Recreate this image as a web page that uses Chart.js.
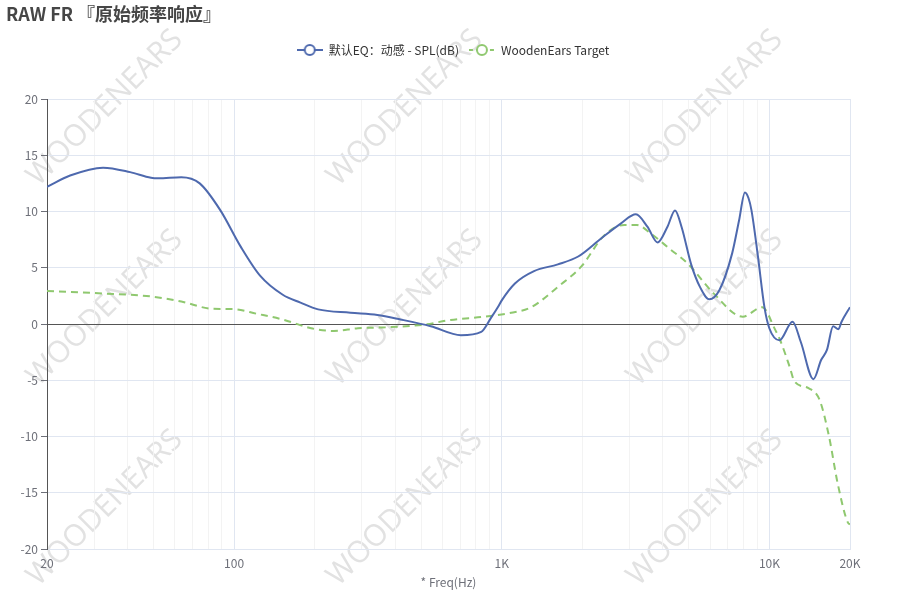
<!DOCTYPE html>
<html>
<head>
<meta charset="utf-8">
<title>RAW FR</title>
<script src="https://cdn.jsdelivr.net/npm/chart.js@4.4.1/dist/chart.umd.min.js"></script>
<style>
html, body { margin: 0; padding: 0; background: #fff; }
</style>
</head>
<body>
<canvas id="frCanvas" width="900" height="600"></canvas>
<script>
// measured curve: 默认EQ 动感
var eqFreq = [20, 24.4, 32.4, 40.9, 48.9, 52.1, 63.5, 74.4, 88.9, 105.7, 125, 152, 177, 206, 272, 343, 419, 543, 704, 838, 909, 973, 1000, 1120, 1320, 1620, 1930, 2350, 2790, 3170, 3500, 3820, 4160, 4440, 4700, 5100, 5500, 5960, 6500, 7260, 7700, 8100, 8350, 8570, 9060, 9580, 10000, 10900, 12200, 13100, 14600, 15600, 16400, 17300, 18100, 18600, 20000];
var eqSpl = [12.2, 13.2, 13.9, 13.5, 13.0, 12.95, 13.05, 12.5, 10.1, 6.9, 4.3, 2.6, 1.9, 1.3, 1.0, 0.8, 0.4, -0.2, -1.0, -0.7, 0.5, 1.6, 2.1, 3.6, 4.7, 5.3, 6.0, 7.6, 8.95, 9.75, 8.65, 7.25, 8.65, 10.1, 8.6, 5.3, 3.3, 2.2, 3.0, 6.3, 9.2, 11.7, 11.2, 10.1, 6.0, 1.5, -0.4, -1.45, 0.2, -1.6, -4.9, -3.2, -2.3, -0.2, -0.47, 0.2, 1.5];

// target curve
var targetFreq = [20, 33.4, 48.9, 63.5, 83.3, 99, 122, 152, 194, 236, 290, 367, 515, 644, 860, 1085, 1290, 1620, 1980, 2420, 2870, 3200, 3600, 4280, 4940, 6200, 7950, 9400, 10500, 10950, 11900, 12400, 14000, 15400, 16700, 18000, 19700, 20000];
var targetSpl = [2.93, 2.7, 2.45, 2.0, 1.35, 1.33, 0.9, 0.4, -0.38, -0.62, -0.38, -0.3, -0.05, 0.36, 0.65, 1.0, 1.5, 3.3, 5.1, 7.9, 8.8, 8.8, 8.05, 6.6, 5.4, 2.7, 0.65, 1.5, -0.5, -1.4, -3.8, -5.1, -5.7, -6.75, -10.0, -14.2, -17.7, -17.8];

var seriesNames = ['默认EQ：动感 - SPL(dB)', 'WoodenEars Target'];
var seriesColors = ['#4e69ae', '#8fc86f'];

// x axis: grid positions and labelled ticks
var xGridValues = [20, 30, 40, 50, 60, 70, 80, 90, 100, 200, 300, 400, 500, 600, 700, 800, 900, 1000, 2000, 3000, 4000, 5000, 6000, 7000, 8000, 9000, 10000, 20000];
var xTickValues = [20, 100, 1000, 10000, 20000];
var xTickLabels = ['20', '100', '1K', '10K', '20K'];
var xMajorGrid = [100, 1000, 10000, 20000];

Chart.defaults.font.family = '"Noto Sans CJK SC", "Noto Sans", sans-serif';

function toPoints(fs, vs) {
    return fs.map(function (f, i) { return { x: f, y: vs[i] }; });
}

function legendIcon(color, dashed) {
    var c = document.createElement('canvas');
    c.width = 26;
    c.height = 14;
    var g = c.getContext('2d');
    g.strokeStyle = color;
    g.lineWidth = 2;
    if (dashed) g.setLineDash([4, 3]);
    g.beginPath();
    g.moveTo(0, 7);
    g.lineTo(26, 7);
    g.stroke();
    g.setLineDash([]);
    g.fillStyle = '#fff';
    g.beginPath();
    g.arc(13, 7, 5, 0, Math.PI * 2);
    g.fill();
    g.stroke();
    return c;
}
var icons = [legendIcon(seriesColors[0], false), legendIcon(seriesColors[1], true)];

// WOODENEARS watermark behind the chart
var watermark = {
    id: 'watermark',
    beforeDraw: function (chart) {
        var ctx = chart.ctx;
        ctx.save();
        ctx.fillStyle = '#e2e2e2';
        ctx.font = '30px "Open Sans", sans-serif';
        ctx.textAlign = 'center';
        ctx.textBaseline = 'middle';
        for (var i = 0; i < 3; i++) {
            for (var j = 0; j < 3; j++) {
                ctx.save();
                ctx.translate(105 + i * 300, 108 + j * 200);
                ctx.rotate(-Math.PI / 4);
                ctx.fillText('WOODENEARS', 0, 0);
                ctx.restore();
            }
        }
        ctx.restore();
    }
};

var frChart = new Chart(document.getElementById('frCanvas'), {
    type: 'line',
    data: {
        datasets: [{
            label: seriesNames[0],
            data: toPoints(eqFreq, eqSpl),
            borderColor: seriesColors[0],
            borderWidth: 2,
            pointRadius: 0,
            cubicInterpolationMode: 'monotone',
            fill: false
        }, {
            label: seriesNames[1],
            data: toPoints(targetFreq, targetSpl),
            borderColor: seriesColors[1],
            borderWidth: 2,
            borderDash: [7, 5],
            pointRadius: 0,
            cubicInterpolationMode: 'monotone',
            fill: false
        }]
    },
    options: {
        responsive: false,
        animation: false,
        layout: { padding: { left: 6, right: 0, top: 0, bottom: 0 } },
        plugins: {
            title: {
                display: true,
                text: 'RAW FR 『原始频率响应』',
                align: 'start',
                color: '#464646',
                font: { size: 18, weight: 'bold' },
                padding: { top: 3, bottom: 9.4 }
            },
            legend: {
                labels: {
                    usePointStyle: true,
                    pointStyleWidth: 26,
                    color: '#333',
                    font: { size: 12 },
                    padding: 10,
                    generateLabels: function (chart) {
                        return chart.data.datasets.map(function (ds, i) {
                            return {
                                text: ds.label,
                                pointStyle: icons[i],
                                fillStyle: '#fff',
                                strokeStyle: seriesColors[i],
                                lineWidth: 0,
                                hidden: !chart.isDatasetVisible(i),
                                datasetIndex: i,
                                fontColor: '#333'
                            };
                        });
                    }
                }
            },
            tooltip: { enabled: false }
        },
        scales: {
            x: {
                type: 'logarithmic',
                min: 20,
                max: 20000,
                afterBuildTicks: function (s) {
                    s.ticks = xGridValues.map(function (v) { return { value: v }; });
                },
                afterFit: function (s) { s.height = 51; },
                ticks: {
                    autoSkip: false,
                    maxRotation: 0,
                    color: '#6e7079',
                    font: { size: 12 },
                    padding: 7,
                    callback: function (v) {
                        var k = xTickValues.indexOf(v);
                        return k < 0 ? '' : xTickLabels[k];
                    }
                },
                grid: {
                    drawTicks: false,
                    color: function (c) {
                        return c.tick && xMajorGrid.indexOf(c.tick.value) >= 0 ? '#e0e6f1' : '#f3f3f3';
                    }
                },
                border: { color: '#e0e6f1' },
                title: {
                    display: true,
                    text: '* Freq(Hz)',
                    color: '#6e7079',
                    font: { size: 12 },
                    padding: { top: 4, bottom: 10 }
                }
            },
            xTop: {
                type: 'linear',
                position: 'top',
                display: true,
                grid: { display: false },
                ticks: { display: false },
                border: { display: false },
                afterFit: function (s) { s.height = 33; }
            },
            y: {
                min: -20,
                max: 20,
                afterFit: function (s) { s.width = 41; },
                ticks: {
                    stepSize: 5,
                    color: '#6e7079',
                    font: { size: 12 },
                    padding: 3
                },
                grid: {
                    color: function (c) {
                        return c.tick && c.tick.value === 0 ? '#555' : '#e0e6f1';
                    },
                    tickColor: '#6e7079',
                    tickLength: 6
                },
                border: { color: '#555' }
            },
            yR: {
                type: 'linear',
                position: 'right',
                display: true,
                grid: { display: false },
                ticks: { display: false },
                border: { display: false },
                afterFit: function (s) { s.width = 50; }
            }
        }
    },
    plugins: [watermark]
});
</script>
</body>
</html>
